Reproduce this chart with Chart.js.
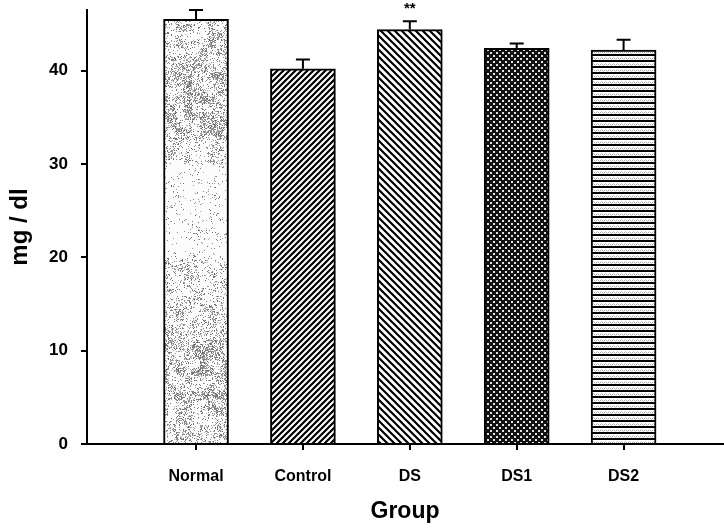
<!DOCTYPE html>
<html>
<head>
<meta charset="utf-8">
<script src="https://cdn.jsdelivr.net/npm/chart.js@4.4.1/dist/chart.umd.min.js"></script>
<style>
html, body { margin: 0; padding: 0; background: #fff; }
#wrap { width: 724px; height: 529px; }
</style>
</head>
<body>
<div id="wrap"><canvas id="canvas" width="724" height="529"></canvas></div>
<script>
// data
var groups = ['Normal', 'Control', 'DS', 'DS1', 'DS2'];
var positions = [1, 2, 3, 4, 5];
var means = [45.5, 40.2, 44.4, 42.4, 42.2];
var errors = [1.0, 1.0, 0.9, 0.5, 1.1];
var marks = ['', '', '**', '', ''];
var yTicks = [0, 10, 20, 30, 40];

var FONT = '"Liberation Sans", Arial, sans-serif';

function makeTile(w, h, draw) {
    var c = document.createElement('canvas');
    c.width = w; c.height = h;
    draw(c.getContext('2d'), w, h);
    return c;
}

// cheap deterministic noise for the speckled fill texture
function hash(x, y) {
    var n = Math.imul(x, 374761393) + Math.imul(y, 668265263) | 0;
    n = Math.imul(n ^ (n >>> 13), 1274126177);
    return ((n ^ (n >>> 16)) >>> 0) / 4294967296;
}

function bandDensity(y) {
    if (y < 40) return 0.26;
    if (y < 140) return 0.34;
    if (y < 165) return 0.18;
    if (y < 260) return 0.06;
    if (y < 300) return 0.18;
    if (y < 340) return 0.24;
    if (y < 410) return 0.38;
    return 0.28;
}

var ctx = document.getElementById('canvas').getContext('2d');

var speckle = makeTile(724, 529, function(g, w, h) {
    g.fillStyle = '#fcfcfc';
    g.fillRect(0, 0, w, h);
    var img = g.getImageData(0, 0, w, h);
    var d = img.data;
    for (var y = 0; y < h; y++) {
        for (var x = 0; x < w; x++) {
            var dens = bandDensity(y) * (0.2 + 1.6 * hash(x >> 3, y >> 3));
            if (hash(x, y) < dens) {
                var v = 100 + Math.floor(hash(y, x) * 80);
                var k = (y * w + x) * 4;
                d[k] = d[k + 1] = d[k + 2] = v;
            }
        }
    }
    g.putImageData(img, 0, 0);
});

var slashTile = makeTile(6, 6, function(g, w, h) {
    g.fillStyle = '#fff'; g.fillRect(0, 0, w, h);
    g.strokeStyle = '#000'; g.lineWidth = 2.2;
    g.beginPath();
    g.moveTo(-1, h + 1); g.lineTo(w + 1, -1);
    g.moveTo(-1, 1); g.lineTo(1, -1);
    g.moveTo(w - 1, h + 1); g.lineTo(w + 1, h - 1);
    g.stroke();
});

var backTile = makeTile(7, 7, function(g, w, h) {
    g.fillStyle = '#fff'; g.fillRect(0, 0, w, h);
    g.strokeStyle = '#000'; g.lineWidth = 2.2;
    g.beginPath();
    g.moveTo(-1, -1); g.lineTo(w + 1, h + 1);
    g.moveTo(w - 1, -1); g.lineTo(w + 1, 1);
    g.moveTo(-1, h - 1); g.lineTo(1, h + 1);
    g.stroke();
});

var crossTile = makeTile(6, 6, function(g, w, h) {
    g.fillStyle = '#111'; g.fillRect(0, 0, w, h);
    g.fillStyle = '#e0e0e0';
    g.fillRect(1, 1, 2, 2);
    g.fillRect(4, 4, 2, 2);
});

var stripeTile = makeTile(4, 6, function(g, w, h) {
    g.fillStyle = '#fff'; g.fillRect(0, 0, w, h);
    g.fillStyle = '#000'; g.fillRect(0, 0, w, 2);
    g.fillStyle = '#a8a8a8'; g.fillRect(0, 4, 1, 1); g.fillRect(2, 4, 1, 1);
    g.fillStyle = '#d0d0d0'; g.fillRect(1, 3, 1, 1); g.fillRect(3, 5, 1, 1);
});

var fills = [
    ctx.createPattern(speckle, 'no-repeat'),
    ctx.createPattern(slashTile, 'repeat'),
    ctx.createPattern(backTile, 'repeat'),
    ctx.createPattern(crossTile, 'repeat'),
    ctx.createPattern(stripeTile, 'repeat')
];

var errorBars = {
    id: 'errorBars',
    afterDatasetsDraw: function(chart) {
        var g = chart.ctx, xs = chart.scales.x, ys = chart.scales.y;
        g.save();
        g.strokeStyle = '#000';
        g.lineWidth = 2;
        for (var i = 0; i < means.length; i++) {
            var x = xs.getPixelForValue(positions[i]);
            var yb = ys.getPixelForValue(means[i]);
            var yt = ys.getPixelForValue(means[i] + errors[i]);
            g.beginPath();
            g.moveTo(x, yb); g.lineTo(x, yt);
            g.moveTo(x - 7, yt); g.lineTo(x + 7, yt);
            g.stroke();
            if (marks[i]) {
                g.fillStyle = '#000';
                g.font = 'bold 15px ' + FONT;
                g.textAlign = 'center';
                g.textBaseline = 'middle';
                g.fillText(marks[i], x, yt - 12);
            }
        }
        // the zero tick crosses the axis in the original
        var y0 = ys.getPixelForValue(0);
        g.beginPath();
        g.moveTo(ys.right, y0); g.lineTo(ys.right + 6, y0);
        g.stroke();
        g.restore();
    }
};

var chart = new Chart(ctx, {
    type: 'bar',
    data: {
        datasets: [{
            data: positions.map(function(p, i) { return { x: p, y: means[i] }; }),
            backgroundColor: fills,
            borderColor: '#000',
            borderWidth: 2,
            barThickness: 65
        }]
    },
    options: {
        responsive: false,
        animation: false,
        layout: { padding: { top: 10, right: 1, left: 0, bottom: 0 } },
        plugins: { legend: { display: false }, tooltip: { enabled: false } },
        scales: {
            x: {
                type: 'linear',
                min: -0.02,
                max: 5.93,
                offset: false,
                afterBuildTicks: function(s) { s.ticks = positions.map(function(v) { return { value: v }; }); },
                afterFit: function(s) { s.height = 85; s.paddingLeft = 0; s.paddingRight = 0; },
                grid: { display: true, offset: false, drawOnChartArea: false, drawTicks: true, tickLength: 6, color: '#000', lineWidth: 2 },
                border: { display: true, color: '#000', width: 2 },
                ticks: {
                    color: '#000',
                    font: { family: FONT, size: 16, weight: 'bold' },
                    padding: 17,
                    maxRotation: 0,
                    autoSkip: false,
                    callback: function(v, i) { return groups[i]; }
                },
                title: {
                    display: true, text: 'Group', color: '#000',
                    font: { family: FONT, size: 23, weight: 'bold' },
                    padding: { top: 0, bottom: 4 }
                }
            },
            y: {
                min: 0,
                max: 46.5,
                afterBuildTicks: function(s) { s.ticks = yTicks.map(function(v) { return { value: v }; }); },
                afterFit: function(s) { s.width = 87; s.paddingTop = 0; s.paddingBottom = 0; },
                grid: { display: true, drawOnChartArea: false, drawTicks: true, tickLength: 6, color: '#000', lineWidth: 2 },
                border: { display: true, color: '#000', width: 2 },
                ticks: {
                    color: '#000',
                    font: { family: FONT, size: 17, weight: 'bold' },
                    padding: 13
                },
                title: {
                    display: true, text: 'mg / dl', color: '#000',
                    font: { family: FONT, size: 24, weight: 'bold' },
                    padding: { top: 6, bottom: 0 }
                }
            }
        }
    },
    plugins: [errorBars]
});
</script>
</body>
</html>
